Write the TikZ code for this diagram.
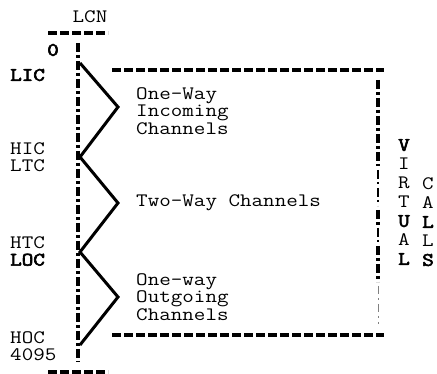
\documentclass[tikz,border=0pt]{standalone}
\usepackage{fontspec}
\setmonofont{Latin Modern Mono}[BoldFont={Latin Modern Mono}, BoldFeatures={FakeBold=3}]
\usetikzlibrary{calc}

\begin{document}
\begin{tikzpicture}[
    x=1pt, y=-1pt,
    txt/.style={font=\fontsize{19}{17.5}\selectfont\ttfamily, xscale=1.18, inner sep=0pt, align=left},
    virt/.style={font=\fontsize{19}{19}\selectfont\ttfamily, xscale=1.18, inner sep=0pt, align=center},
    bangline/.style={line width=3.2pt, dash pattern=on 9pt off 3pt on 3pt off 3pt},
    thinbang/.style={line width=1.3pt, dash pattern=on 9pt off 3pt on 2pt off 4pt},
    faintbang/.style={line width=0.8pt, gray, dash pattern=on 8pt off 4pt on 2pt off 4pt},
    dashrule/.style={line width=3.4pt, dash pattern=on 9pt off 3pt},
    zig/.style={line width=3pt, line join=miter},
]
\useasboundingbox (0,0) rectangle (437,374);

% LCN axis
\node[txt] (lcn) at (90,17) {LCN};
\coordinate (lcntop) at (78,43);
\coordinate (lcnbot) at (78,362);
\draw[dashrule] (48,33) -- (108,33);
\draw[dashrule] (48,372) -- (108,372);
\draw[bangline] (lcntop) -- (lcnbot);

% Range labels
\node[txt,anchor=west] (zero) at (47,50) {\bfseries 0};
\node[txt,anchor=west] (lic) at (10,75) {\bfseries LIC};
\node[txt,anchor=west] (hic) at (10,157) {HIC\\LTC};
\node[txt,anchor=west] (htc) at (10,251) {HTC\\\textbf{LOC}};
\node[txt,anchor=west] (hoc) at (10,346) {HOC\\4095};

% Zigzag
\foreach \n/\y in {0/63,2/157,4/252,6/345} \coordinate (z\n) at (80,\y);
\foreach \n/\y in {1/107,3/203,5/297} \coordinate (z\n) at (118,\y);
\draw[zig] (z0) -- (z1) -- (z2) -- (z3) -- (z4) -- (z5) -- (z6);

% Channel groups
\node[txt,anchor=west] (incoming) at (136,111) {One-Way\\Incoming\\Channels};
\node[txt,anchor=west] (twoway) at (136,203) {Two-Way Channels};
\node[txt,anchor=west] (outgoing) at (136,297) {One-way\\Outgoing\\Channels};

% Virtual calls box
\coordinate (boxnw) at (112,70);
\coordinate (boxne) at (384,70);
\coordinate (boxsw) at (112,335);
\coordinate (boxse) at (384,335);
\draw[dashrule] (boxnw) -- (boxne);
\draw[dashrule] (boxsw) -- (boxse);
\draw[bangline] (378,80) -- (378,166);
\draw[thinbang] (378,170) -- (378,206);
\draw[bangline] (378,210) -- (378,226);
\draw[thinbang] (378,228) -- (378,244);
\draw[bangline] (378,246) -- (378,282);
\draw[faintbang] (378,286) -- (378,324);

\node[virt] (virtual) at (404,202) {\textbf{V}\\I\\R\\T\\\textbf{U}\\A\\\textbf{L}};
\node[virt] (calls) at (428,222) {C\\A\\\textbf{L}\\L\\\textbf{S}};
\end{tikzpicture}
\end{document}
